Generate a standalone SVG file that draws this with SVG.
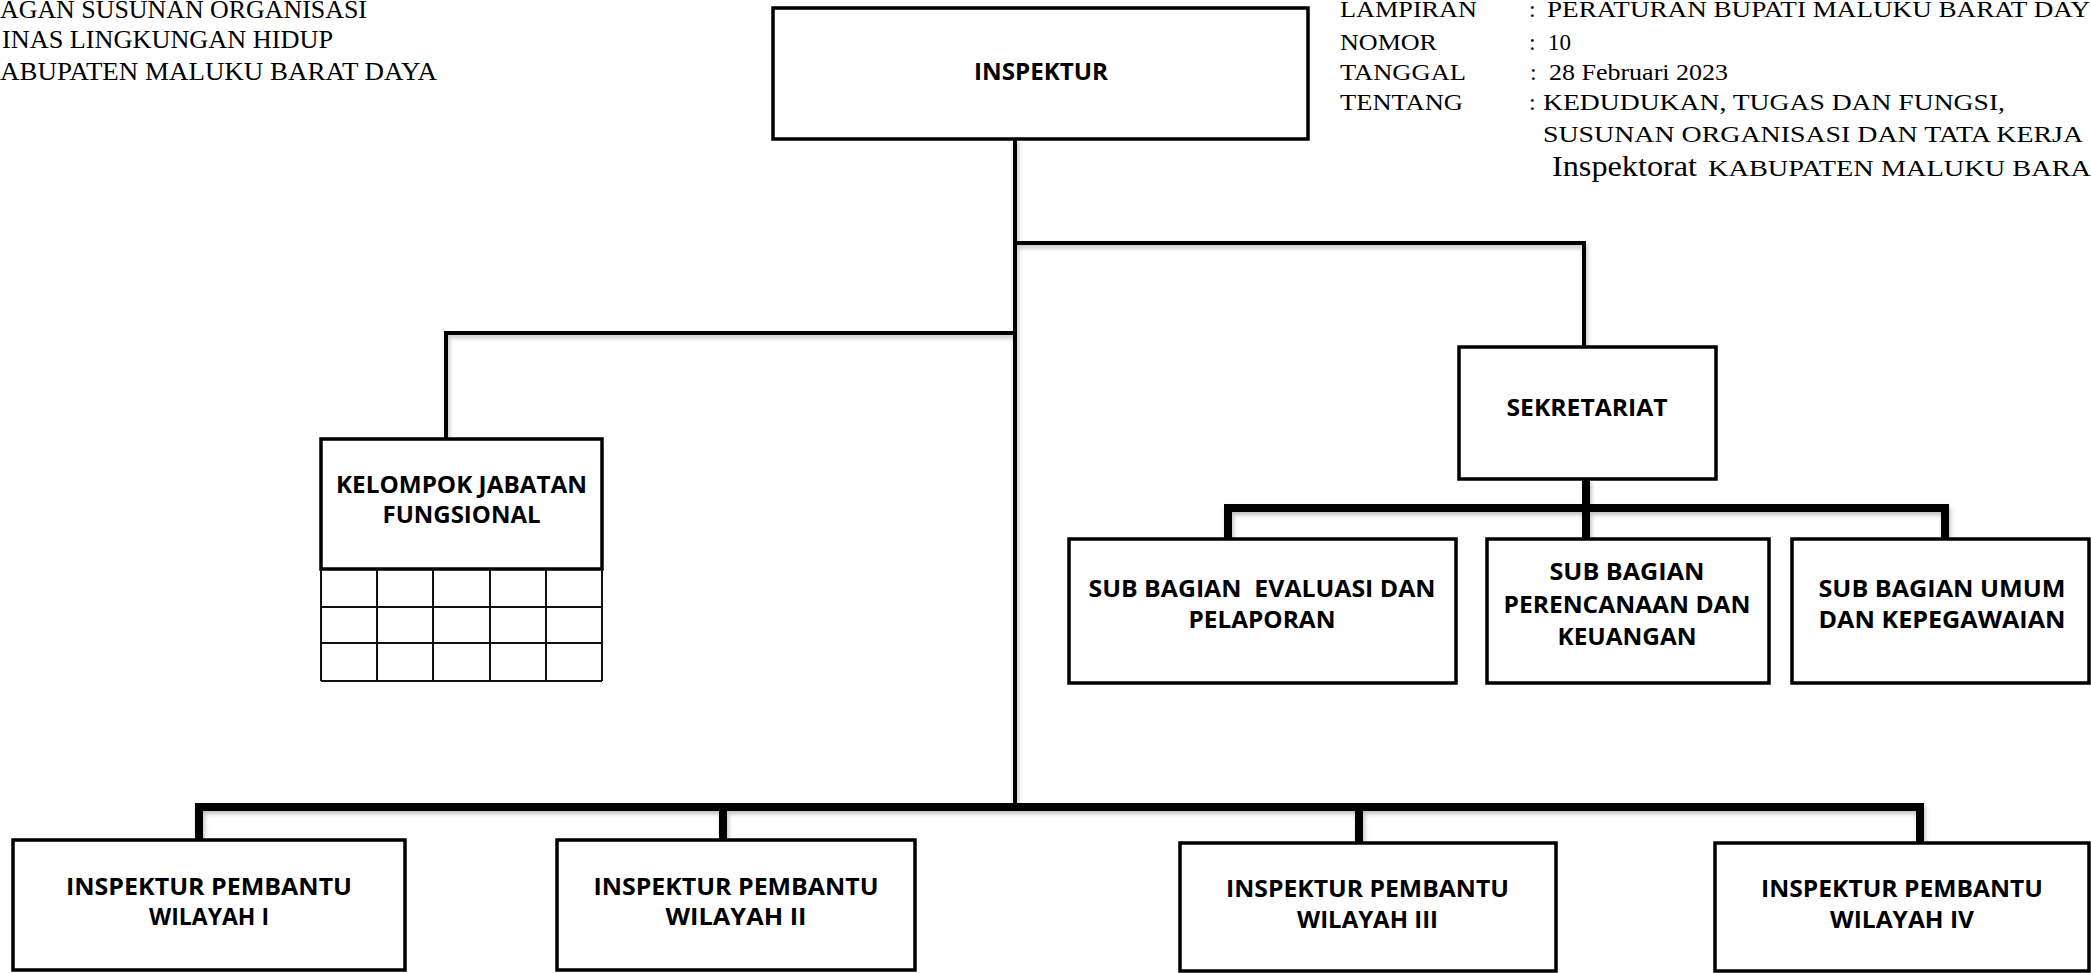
<svg xmlns="http://www.w3.org/2000/svg" width="2091" height="973" viewBox="0 0 2091 973">
<style>
.box{fill:#fff;stroke:#000;stroke-width:3.5}
.lbl{font-family:"Open Sans","Noto Sans",sans-serif;font-weight:700;font-size:24px;fill:#000;text-anchor:middle}
.hdr{font-family:"Liberation Serif","Times New Roman",serif;font-size:25px;fill:#000}
.hdr2{font-family:"Liberation Serif","Times New Roman",serif;font-size:24px;fill:#000}
.thin{fill:none;stroke:#000;stroke-width:4}
.thick{fill:none;stroke:#000;stroke-width:8}
.grid{fill:none;stroke:#111;stroke-width:2}
</style>
<defs>
<filter id="sh" x="-5%" y="-5%" width="110%" height="120%">
<feDropShadow dx="1.5" dy="3" stdDeviation="2" flood-color="#000" flood-opacity="0.25"/>
</filter>
</defs>
<rect width="2091" height="973" fill="#fff"/>

<g id="header-left">
<text class="hdr" x="0" y="18" textLength="367" lengthAdjust="spacingAndGlyphs">AGAN SUSUNAN ORGANISASI</text>
<text class="hdr" x="2" y="48" textLength="331" lengthAdjust="spacingAndGlyphs">INAS LINGKUNGAN HIDUP</text>
<text class="hdr" x="0" y="80" textLength="437" lengthAdjust="spacingAndGlyphs">ABUPATEN MALUKU BARAT DAYA</text>
</g>

<g id="header-right">
<text class="hdr2" x="1340" y="17" textLength="137" lengthAdjust="spacingAndGlyphs">LAMPIRAN</text>
<text class="hdr2" x="1529" y="17">:</text>
<text class="hdr2" x="1547" y="17" textLength="543" lengthAdjust="spacingAndGlyphs">PERATURAN BUPATI MALUKU BARAT DAY</text>
<text class="hdr2" x="1340" y="50" textLength="97" lengthAdjust="spacingAndGlyphs">NOMOR</text>
<text class="hdr2" x="1529" y="50">:</text>
<text class="hdr2" x="1548" y="50" textLength="23" lengthAdjust="spacingAndGlyphs">10</text>
<text class="hdr2" x="1340" y="80" textLength="126" lengthAdjust="spacingAndGlyphs">TANGGAL</text>
<text class="hdr2" x="1530" y="80">:</text>
<text class="hdr2" x="1549" y="80" textLength="179" lengthAdjust="spacingAndGlyphs">28 Februari 2023</text>
<text class="hdr2" x="1340" y="110" textLength="123" lengthAdjust="spacingAndGlyphs">TENTANG</text>
<text class="hdr2" x="1529" y="110">:</text>
<text class="hdr2" x="1543" y="110" textLength="462" lengthAdjust="spacingAndGlyphs">KEDUDUKAN, TUGAS DAN FUNGSI,</text>
<text class="hdr2" x="1543" y="142" textLength="540" lengthAdjust="spacingAndGlyphs">SUSUNAN ORGANISASI DAN TATA KERJA</text>
<text class="hdr2" x="1552" y="176" style="font-size:30px" textLength="145" lengthAdjust="spacingAndGlyphs">Inspektorat</text>
<text class="hdr2" x="1708" y="176" textLength="383" lengthAdjust="spacingAndGlyphs">KABUPATEN MALUKU BARA</text>
</g>

<g id="connectors" filter="url(#sh)">
<path class="thin" d="M1015 139 V807"/>
<path class="thin" d="M1015 243 H1584 V347"/>
<path class="thin" d="M1015 333 H446 V439"/>
<path class="thick" d="M1586 479 V508"/>
<path class="thick" d="M1228 538 V508 H1945 V538"/>
<path class="thick" d="M1586 508 V538"/>
<path class="thick" d="M199 840 V807 H1920 V843"/>
<path class="thick" d="M723 807 V840"/>
<path class="thick" d="M1359 807 V843"/>
</g>

<g id="inspektur">
<rect class="box" x="773" y="8" width="535" height="131"/>
<text class="lbl" x="1041" y="80" textLength="134" lengthAdjust="spacingAndGlyphs">INSPEKTUR</text>
</g>

<g id="sekretariat">
<rect class="box" x="1459" y="347" width="257" height="132"/>
<text class="lbl" x="1587" y="416" textLength="161" lengthAdjust="spacingAndGlyphs">SEKRETARIAT</text>
</g>

<g id="kelompok-jabatan-fungsional">
<rect class="box" x="321" y="439" width="281" height="130"/>
<text class="lbl" x="461.5" y="493" textLength="251" lengthAdjust="spacingAndGlyphs">KELOMPOK JABATAN</text>
<text class="lbl" x="461.5" y="523" textLength="158" lengthAdjust="spacingAndGlyphs">FUNGSIONAL</text>
<path class="grid" d="M321 569 V681 M377 569 V681 M433 569 V681 M490 569 V681 M546 569 V681 M602 569 V681 M321 607 H602 M321 643 H602 M321 681 H602"/>
</g>

<g id="sub-evaluasi">
<rect class="box" x="1069" y="539" width="387" height="144"/>
<text class="lbl" x="1262" y="597" textLength="347" lengthAdjust="spacingAndGlyphs">SUB BAGIAN&#160; EVALUASI DAN</text>
<text class="lbl" x="1262" y="628" textLength="147" lengthAdjust="spacingAndGlyphs">PELAPORAN</text>
</g>

<g id="sub-perencanaan">
<rect class="box" x="1487" y="539" width="282" height="144"/>
<text class="lbl" x="1627" y="580" textLength="155" lengthAdjust="spacingAndGlyphs">SUB BAGIAN</text>
<text class="lbl" x="1627" y="613" textLength="247" lengthAdjust="spacingAndGlyphs">PERENCANAAN DAN</text>
<text class="lbl" x="1627" y="645" textLength="139" lengthAdjust="spacingAndGlyphs">KEUANGAN</text>
</g>

<g id="sub-umum">
<rect class="box" x="1792" y="539" width="297" height="144"/>
<text class="lbl" x="1942" y="597" textLength="247" lengthAdjust="spacingAndGlyphs">SUB BAGIAN UMUM</text>
<text class="lbl" x="1942" y="628" textLength="247" lengthAdjust="spacingAndGlyphs">DAN KEPEGAWAIAN</text>
</g>

<g id="wilayah-1">
<rect class="box" x="13" y="840" width="392" height="130"/>
<text class="lbl" x="209" y="895" textLength="286" lengthAdjust="spacingAndGlyphs">INSPEKTUR PEMBANTU</text>
<text class="lbl" x="209" y="925" textLength="120" lengthAdjust="spacingAndGlyphs">WILAYAH I</text>
</g>

<g id="wilayah-2">
<rect class="box" x="557" y="840" width="358" height="130"/>
<text class="lbl" x="736" y="895" textLength="285" lengthAdjust="spacingAndGlyphs">INSPEKTUR PEMBANTU</text>
<text class="lbl" x="736" y="925" textLength="141" lengthAdjust="spacingAndGlyphs">WILAYAH II</text>
</g>

<g id="wilayah-3">
<rect class="box" x="1180" y="843" width="376" height="128"/>
<text class="lbl" x="1367.5" y="897" textLength="283" lengthAdjust="spacingAndGlyphs">INSPEKTUR PEMBANTU</text>
<text class="lbl" x="1367.5" y="928" textLength="141" lengthAdjust="spacingAndGlyphs">WILAYAH III</text>
</g>

<g id="wilayah-4">
<rect class="box" x="1715" y="843" width="374" height="128"/>
<text class="lbl" x="1902" y="897" textLength="282" lengthAdjust="spacingAndGlyphs">INSPEKTUR PEMBANTU</text>
<text class="lbl" x="1902" y="928" textLength="144" lengthAdjust="spacingAndGlyphs">WILAYAH IV</text>
</g>
</svg>
